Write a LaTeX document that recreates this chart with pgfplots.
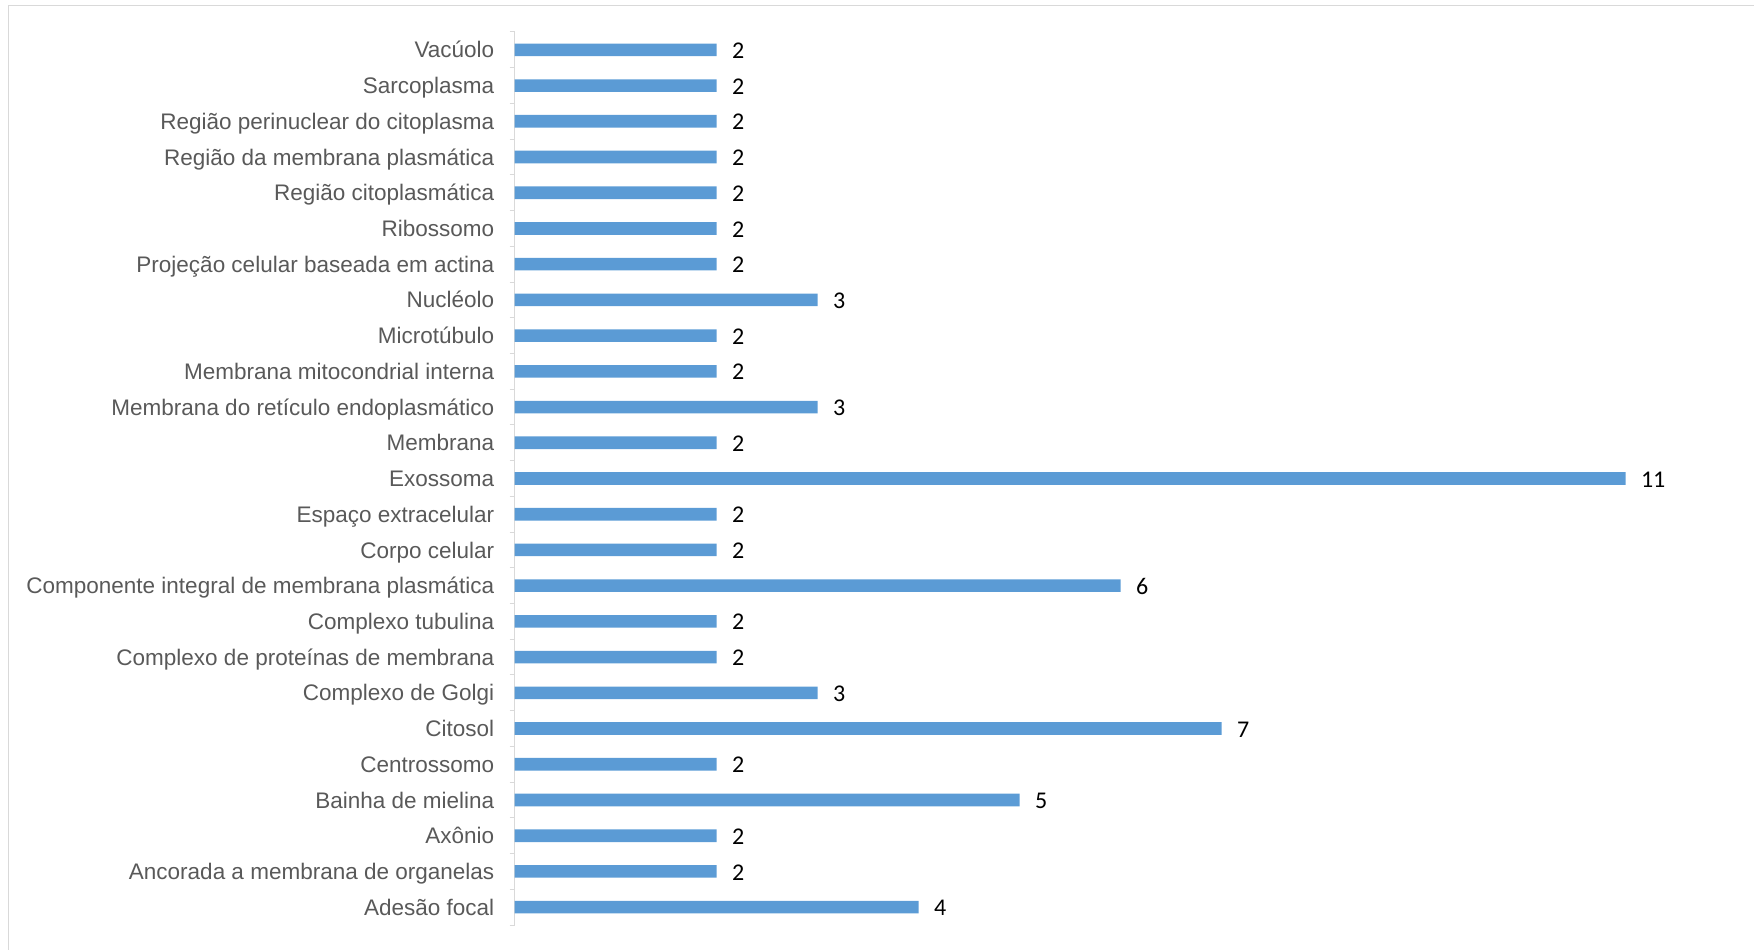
\documentclass[border=0pt]{standalone}
\usepackage{fontspec}
\setmainfont{Liberation Sans}
\newfontfamily\carlito{Carlito}
\usepackage{pgfplots}
\pgfplotsset{compat=1.18}
\definecolor{barblue}{HTML}{5B9BD5}
\definecolor{axisgray}{HTML}{D9D9D9}
\definecolor{labelgray}{HTML}{595959}
\begin{document}
\begin{tikzpicture}
\useasboundingbox (0,0) rectangle (877pt,474.5pt);
\draw[axisgray, line width=0.75pt] (4.25pt,-20pt) rectangle (900pt,471.75pt);
\begin{axis}[
  at={(257.3pt,12pt)}, anchor=south west,
  scale only axis, width=606pt, height=446.5pt,
  xmin=0, xmax=12, ymin=-0.5, ymax=24.5,
  axis x line=none,
  axis y line*=left,
  y axis line style={-, draw=axisgray, line width=0.5pt},
  xtick=\empty,
  ytick={0,...,24},
  major tick length=0pt,
  /pgf/number format/assume math mode=true,
  yticklabels={Adesão focal,Ancorada a membrana de organelas,Axônio,Bainha de mielina,Centrossomo,Citosol,Complexo de Golgi,Complexo de proteínas de membrana,Complexo tubulina,Componente integral de membrana plasmática,Corpo celular,Espaço extracelular,Exossoma,Membrana,Membrana do retículo endoplasmático,Membrana mitocondrial interna,Microtúbulo,Nucléolo,Projeção celular baseada em actina,Ribossomo,Região citoplasmática,Região da membrana plasmática,Região perinuclear do citoplasma,Sarcoplasma,Vacúolo},
  yticklabel style={font=\fontsize{11.25}{13}\selectfont, text=labelgray, inner sep=0pt, anchor=east, xshift=-10pt, text height=8.1pt, text depth=0pt},
  extra y ticks={-0.5,0.5,...,24.5},
  extra y tick labels={},
  extra y tick style={major tick length=2.5pt, tick align=outside, tick style={draw=axisgray, line width=0.5pt}},
  clip=false,
]
\addplot[xbar, bar width=6.3pt, bar shift=0pt, fill=barblue, draw=none,
  nodes near coords,
  nodes near coords style={font=\carlito\fontsize{12}{14}\selectfont, text=black, anchor=west, inner sep=0pt, xshift=7.5pt, text height=7.6pt, text depth=0pt, yshift=-0.5pt}]
coordinates {
(4,0) (2,1) (2,2) (5,3) (2,4) (7,5) (3,6) (2,7) (2,8) (6,9) (2,10) (2,11) (11,12)
(2,13) (3,14) (2,15) (2,16) (3,17) (2,18) (2,19) (2,20) (2,21) (2,22) (2,23) (2,24)
};
\end{axis}
\end{tikzpicture}
\end{document}
